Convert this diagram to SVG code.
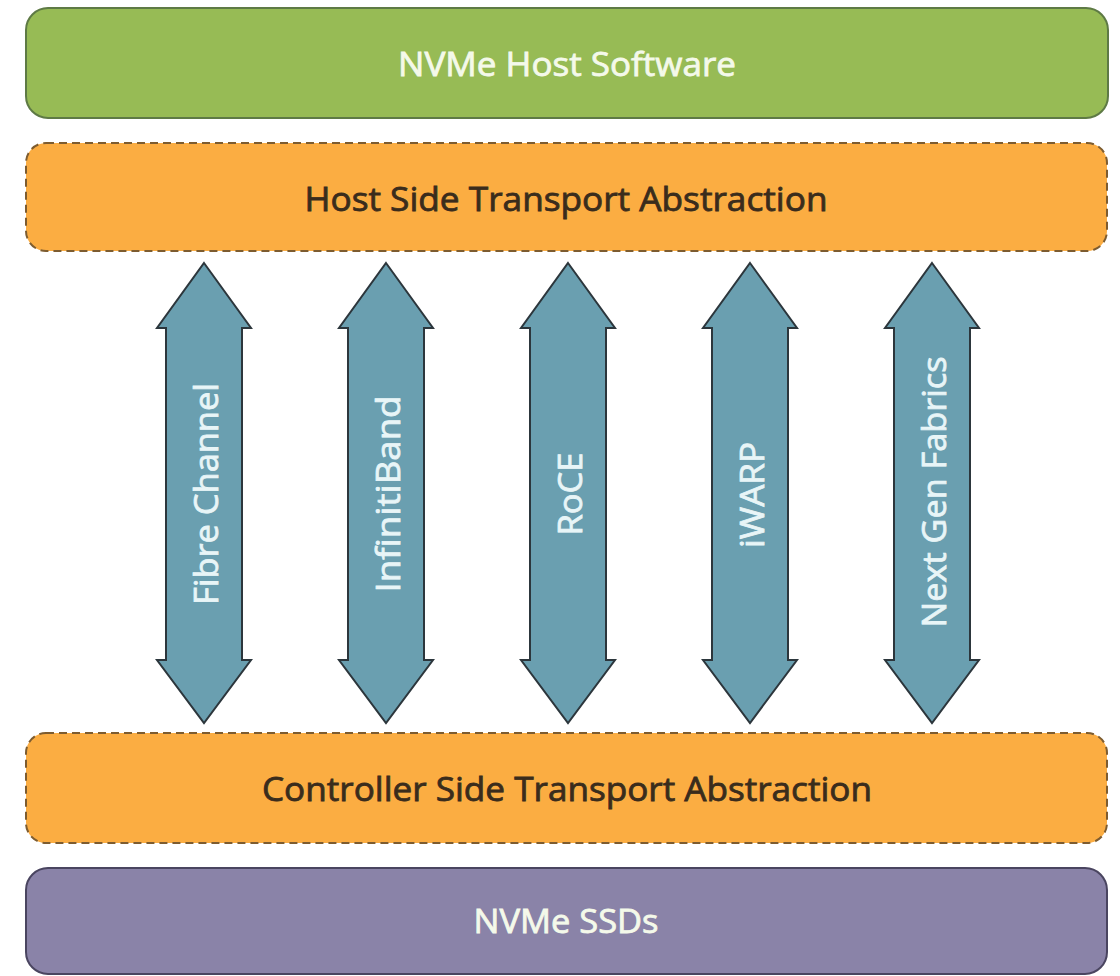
<svg xmlns="http://www.w3.org/2000/svg" width="1120" height="976" viewBox="0 0 1120 976">
<style>
.lbl{font-family:"Open Sans","Liberation Sans",sans-serif;font-size:33px;text-anchor:middle;stroke-width:0.8}
.light{fill:#f4f9ea;stroke:#f4f9ea}
.dark{fill:#3a2c1c;stroke:#3a2c1c}
.orange{fill:#fbad42;stroke:#7d5c30;stroke-width:2;stroke-dasharray:8 5}
.arrow{fill:#6a9fb0;stroke:#2c363c;stroke-width:2;stroke-linejoin:miter}
.alabel{font-family:"Open Sans","Liberation Sans",sans-serif;font-size:33px;text-anchor:middle;fill:#e8f5f7;stroke:#e8f5f7;stroke-width:0.8}
</style>
<rect width="1120" height="976" fill="#ffffff"/>
<g id="host-software">
<rect x="26" y="8" width="1082" height="110" rx="22" fill="#97bb55" stroke="#5e7a45" stroke-width="2"/>
<text class="lbl light" x="567" y="76" textLength="338" lengthAdjust="spacingAndGlyphs">NVMe Host Software</text>
</g>
<g id="host-transport">
<rect class="orange" x="26" y="143" width="1081" height="108" rx="20"/>
<text class="lbl dark" x="566" y="211" textLength="523" lengthAdjust="spacingAndGlyphs">Host Side Transport Abstraction</text>
</g>
<g id="controller-transport">
<rect class="orange" x="26" y="733" width="1081" height="110" rx="20"/>
<text class="lbl dark" x="567" y="801" textLength="610" lengthAdjust="spacingAndGlyphs">Controller Side Transport Abstraction</text>
</g>
<g id="nvme-ssds">
<rect x="26" y="868" width="1081" height="106" rx="22" fill="#8a83a8" stroke="#4a4560" stroke-width="2"/>
<text class="lbl light" x="566" y="933" textLength="185" lengthAdjust="spacingAndGlyphs">NVMe SSDs</text>
</g>
<g id="connectors">
<g id="fibre-channel">
<path class="arrow" d="M204,263 L251,328 L242,328 L242,660 L251,660 L204,723 L157,660 L166,660 L166,328 L157,328 Z"/>
<text class="alabel" transform="translate(218,494) rotate(-90)" textLength="222" lengthAdjust="spacingAndGlyphs">Fibre Channel</text>
</g>
<g id="infinitiband">
<path class="arrow" d="M386,263 L433,328 L424,328 L424,660 L433,660 L386,723 L339,660 L348,660 L348,328 L339,328 Z"/>
<text class="alabel" transform="translate(400,494) rotate(-90)" textLength="197" lengthAdjust="spacingAndGlyphs">InfinitiBand</text>
</g>
<g id="roce">
<path class="arrow" d="M568,263 L615,328 L606,328 L606,660 L615,660 L568,723 L521,660 L530,660 L530,328 L521,328 Z"/>
<text class="alabel" transform="translate(582,494) rotate(-90)" textLength="83" lengthAdjust="spacingAndGlyphs">RoCE</text>
</g>
<g id="iwarp">
<path class="arrow" d="M750,263 L797,328 L788,328 L788,660 L797,660 L750,723 L703,660 L712,660 L712,328 L703,328 Z"/>
<text class="alabel" transform="translate(764,495) rotate(-90)" textLength="106" lengthAdjust="spacingAndGlyphs">iWARP</text>
</g>
<g id="next-gen-fabrics">
<path class="arrow" d="M932,263 L979,328 L970,328 L970,660 L979,660 L932,723 L885,660 L894,660 L894,328 L885,328 Z"/>
<text class="alabel" transform="translate(946,492) rotate(-90)" textLength="271" lengthAdjust="spacingAndGlyphs">Next Gen Fabrics</text>
</g>
</g>
</svg>
